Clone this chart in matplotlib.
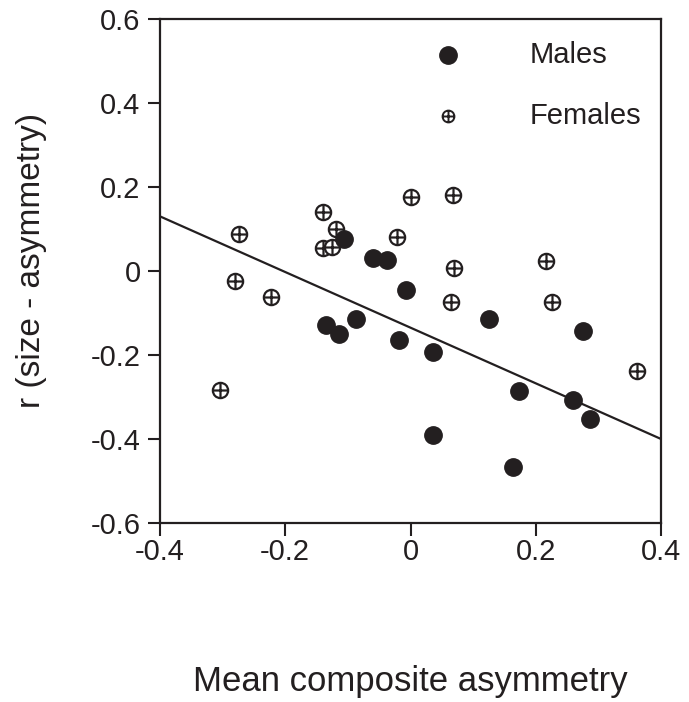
import matplotlib
matplotlib.use("Agg")
import matplotlib.pyplot as plt
from matplotlib.path import Path
import numpy as np

plt.rcParams['font.family'] = ['Liberation Sans', 'DejaVu Sans']

# datos
males_x = [-0.106, -0.060, -0.038, -0.007, -0.135, -0.114, -0.087, -0.018,
           0.036, 0.125, 0.275, 0.173, 0.259, 0.287, 0.036, 0.164]
males_y = [0.075, 0.030, 0.025, -0.046, -0.128, -0.150, -0.114, -0.164,
           -0.194, -0.114, -0.142, -0.285, -0.306, -0.352, -0.390, -0.466]

females_x = [-0.274, -0.280, -0.223, -0.140, -0.119, -0.140, -0.125, 0.001,
             -0.022, 0.068, 0.069, 0.216, 0.065, 0.226, 0.362, -0.304]
females_y = [0.089, -0.025, -0.061, 0.140, 0.101, 0.054, 0.056, 0.175,
             0.080, 0.182, 0.008, 0.023, -0.073, -0.075, -0.238, -0.283]

# recta de regresion
slope = -0.6625
intercept = -0.135

xticks = [-0.4, -0.2, 0, 0.2, 0.4]
yticks = [-0.6, -0.4, -0.2, 0, 0.2, 0.4, 0.6]
xtick_labels = ['-0.4', '-0.2', '0', '0.2', '0.4']
ytick_labels = ['-0.6', '-0.4', '-0.2', '0', '0.2', '0.4', '0.6']

ink = '#231f20'

# marcador circulo con cruz
circ = Path.unit_circle()
hline = Path([[-1, 0], [1, 0]], [Path.MOVETO, Path.LINETO])
vline = Path([[0, -1], [0, 1]], [Path.MOVETO, Path.LINETO])
circle_plus = Path.make_compound_path(circ, hline, vline)

fig = plt.figure(figsize=(6.89, 7.02), dpi=100)
ax = fig.add_axes([0.2322, 0.255, 0.7272, 0.718])

xl = np.array([-0.4, 0.4])
ax.plot(xl, slope * xl + intercept, color=ink, lw=1.6, zorder=1)

ax.plot(males_x, males_y, 'o', color=ink, markersize=12.5, mec=ink, zorder=3)
ax.plot(females_x, females_y, linestyle='none', marker=circle_plus,
        markersize=11, mfc='white', mec=ink, mew=1.6, zorder=2)

# leyenda manual
ax.plot([0.575], [0.928], 'o', color=ink, markersize=12.5, transform=ax.transAxes, clip_on=False)
ax.plot([0.575], [0.807], linestyle='none', marker=circle_plus, markersize=8.5,
        mfc='white', mec=ink, mew=1.4, transform=ax.transAxes, clip_on=False)
ax.text(0.737, 0.928, 'Males', transform=ax.transAxes, fontsize=21, va='center', color=ink)
ax.text(0.737, 0.807, 'Females', transform=ax.transAxes, fontsize=21, va='center', color=ink)

ax.set_xlim(-0.4, 0.4)
ax.set_ylim(-0.6, 0.6)
ax.set_xticks(xticks)
ax.set_xticklabels(xtick_labels)
ax.set_yticks(yticks)
ax.set_yticklabels(ytick_labels)
ax.tick_params(direction='out', length=9, width=1.5, labelsize=21, colors=ink, pad=5)
ax.tick_params(axis='x', pad=2)

for s in ax.spines.values():
    s.set_linewidth(1.6)
    s.set_color(ink)

ax.set_xlabel('Mean composite asymmetry', fontsize=25, labelpad=71, color=ink)
ax.set_ylabel('r (size - asymmetry)', fontsize=24, color=ink)
ax.yaxis.set_label_coords(-0.226, 0.52)

fig.savefig('out.png', dpi=100)
